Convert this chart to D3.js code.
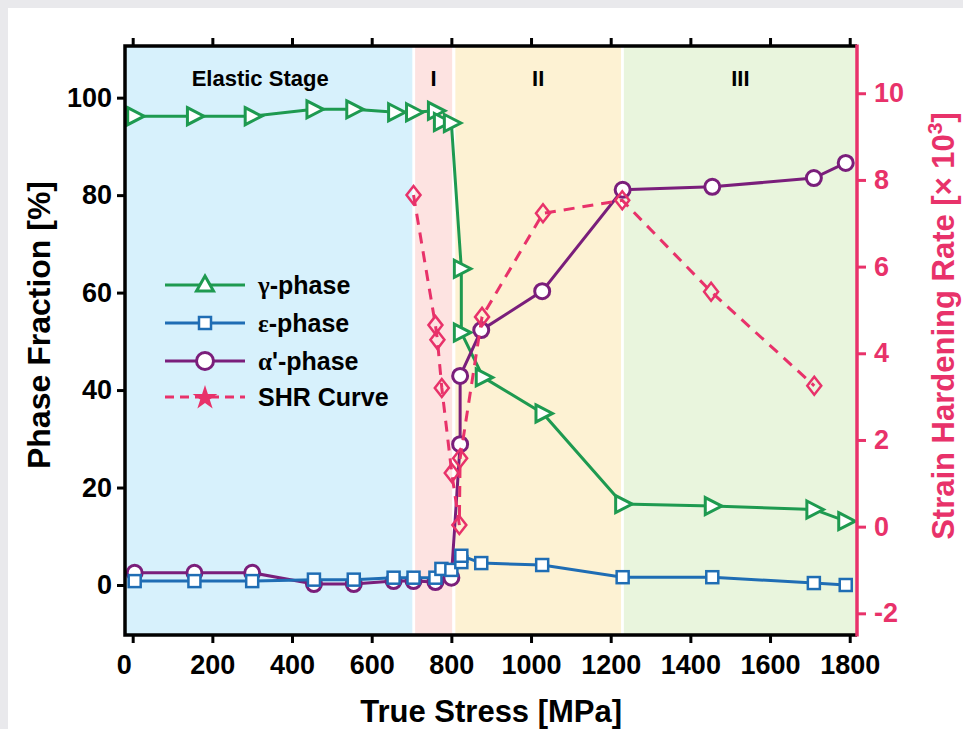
<!DOCTYPE html>
<html>
<head>
<meta charset="utf-8">
<script src="https://cdn.jsdelivr.net/npm/d3@7"></script>
<style>
  body { margin: 0; background: #e9e9ec; }
  svg { display: block; }
  text { font-family: "Liberation Sans", Arial, Helvetica, sans-serif; font-weight: bold; }
</style>
</head>
<body>
<div class="container"></div>
<script>
// data
const gammaStress = [5, 155, 300, 455, 555, 660, 705, 760, 775, 800, 825, 825, 880, 1030, 1230, 1455, 1710, 1790];
const gammaFrac   = [96.2, 96.2, 96.2, 97.6, 97.6, 97.0, 97.0, 97.3, 95.0, 94.8, 64.9, 51.8, 42.6, 35.2, 16.6, 16.2, 15.5, 13.1];

const epsStress = [5, 155, 300, 455, 555, 655, 705, 760, 775, 800, 825, 825, 875, 1028, 1230, 1455, 1710, 1790];
const epsFrac   = [0.8, 0.8, 0.8, 1.1, 1.1, 1.5, 1.5, 1.5, 3.3, 3.1, 4.7, 6.0, 4.5, 4.1, 1.6, 1.6, 0.4, 0.0];

const alphaStress = [5, 155, 300, 455, 555, 655, 705, 760, 800, 822, 822, 875, 1028, 1230, 1455, 1710, 1790];
const alphaFrac   = [2.5, 2.5, 2.5, 0.2, 0.2, 0.8, 0.8, 0.6, 1.5, 28.9, 42.9, 52.3, 60.3, 81.1, 81.7, 83.5, 86.6];

const shrStress = [705, 760, 765, 776, 801, 820, 822, 877, 1030, 1229, 1452, 1711];
const shrRate   = [7.65, 4.65, 4.31, 3.2, 1.24, 0.04, 1.58, 4.84, 7.23, 7.53, 5.42, 3.25];

const stageNames = ['Elastic Stage', 'I', 'II', 'III'];
const stageStart = [-19.3, 709, 810, 1233];
const stageEnd   = [702, 802, 1226, 1818.3];
const stageFill  = ['#d7f1fc', '#fde3e1', '#fdf2d3', '#e9f5dd'];

const xTicks = [0, 200, 400, 600, 800, 1000, 1200, 1400, 1600, 1800];
const yTicks = [0, 20, 40, 60, 80, 100];
const y2Ticks = [-2, 0, 2, 4, 6, 8, 10];

const legendGreek = ['γ', 'ε', 'α', ''];
const legendNames = ['-phase', '-phase', "'-phase", 'SHR Curve'];

const width = 963;
const height = 729;

const green = '#1e9a50';
const blue = '#1f6db4';
const purple = '#7a1e7b';
const red = '#e8326a';

const svg = d3.select('.container')
    .append('svg')
    .attr('width', width)
    .attr('height', height);

// white card
svg.append('rect')
    .attr('x', 8).attr('y', 8)
    .attr('width', width - 8).attr('height', height - 8)
    .attr('fill', '#fff');

const pLeft = 125, pRight = 857, pTop = 46, pBottom = 635;

const x = d3.scaleLinear().domain([-19.3, 1818.3]).range([pLeft, pRight]);
const y = d3.scaleLinear().domain([-10.26, 110.6]).range([pBottom, pTop]);
const y2 = d3.scaleLinear().domain([-2.5, 11.09]).range([pBottom, pTop]);

// stage bands
svg.selectAll('.band')
    .data(stageNames)
    .enter()
    .append('rect')
    .attr('class', 'band')
    .attr('x', (d, i) => x(stageStart[i]))
    .attr('width', (d, i) => x(stageEnd[i]) - x(stageStart[i]))
    .attr('y', pTop)
    .attr('height', pBottom - pTop)
    .attr('fill', (d, i) => stageFill[i]);

svg.selectAll('.stage')
    .data(stageNames)
    .enter()
    .append('text')
    .attr('class', 'stage')
    .attr('x', (d, i) => i === 0 ? x(320) : (x(stageStart[i]) + x(stageEnd[i])) / 2)
    .attr('y', 86)
    .attr('text-anchor', 'middle')
    .attr('font-size', 22)
    .text(d => d);

// markers
const tri = 'M-7,-8.5L9.5,0L-7,8.5Z';
const diamond = 'M0,-9L7,0L0,9L-7,0Z';

function drawSeries(xs, ys, yscale, color, kind, dashed) {
    const g = svg.append('g');
    const pts = xs.map((v, i) => [x(v), yscale(ys[i])]);
    g.append('path')
        .attr('d', d3.line()(pts))
        .attr('fill', 'none')
        .attr('stroke', color)
        .attr('stroke-width', 3)
        .attr('stroke-dasharray', dashed ? '11,8' : null);
    const m = g.selectAll('.mark')
        .data(pts)
        .enter();
    if (kind === 'circle') {
        m.append('circle')
            .attr('cx', d => d[0]).attr('cy', d => d[1])
            .attr('r', 7.5)
            .attr('fill', '#fff').attr('stroke', color).attr('stroke-width', 3);
    } else if (kind === 'square') {
        m.append('rect')
            .attr('x', d => d[0] - 6).attr('y', d => d[1] - 6)
            .attr('width', 12).attr('height', 12)
            .attr('fill', '#fff').attr('stroke', color).attr('stroke-width', 2.5);
    } else {
        m.append('path')
            .attr('d', kind === 'tri' ? tri : diamond)
            .attr('transform', d => `translate(${d[0]},${d[1]})`)
            .attr('fill', kind === 'tri' ? '#fff' : 'none')
            .attr('stroke', color).attr('stroke-width', kind === 'tri' ? 3 : 2.5);
    }
}

drawSeries(gammaStress, gammaFrac, y, green, 'tri');
drawSeries(alphaStress, alphaFrac, y, purple, 'circle');
drawSeries(epsStress, epsFrac, y, blue, 'square');
drawSeries(shrStress, shrRate, y2, red, 'diamond', true);

// axes
const fmt = d => String(d);
const bottomAxis = svg.append('g')
    .attr('transform', `translate(0,${pBottom})`)
    .call(d3.axisBottom(x).tickValues(xTicks).tickSize(8).tickPadding(12).tickSizeOuter(0).tickFormat(fmt));
const topAxis = svg.append('g')
    .attr('transform', `translate(0,${pTop})`)
    .call(d3.axisTop(x).tickValues(xTicks).tickSize(8).tickFormat('').tickSizeOuter(0));
const leftAxis = svg.append('g')
    .attr('transform', `translate(${pLeft},0)`)
    .call(d3.axisLeft(y).tickValues(yTicks).tickSize(8).tickPadding(5).tickSizeOuter(0).tickFormat(fmt));
const rightAxis = svg.append('g')
    .attr('transform', `translate(${pRight},0)`)
    .call(d3.axisRight(y2).tickValues(y2Ticks).tickSize(9).tickPadding(8).tickSizeOuter(0).tickFormat(fmt));

[bottomAxis, topAxis, leftAxis].forEach(a => {
    a.selectAll('.domain').remove();
    a.selectAll('line').attr('stroke', '#000').attr('stroke-width', 3);
    a.selectAll('text').attr('font-size', 27).attr('fill', '#000')
        .style('font-family', '"Liberation Sans", Arial, sans-serif');
});
// the "0" under the x axis sits a little left of its tick
bottomAxis.selectAll('text').filter(d => d === 0).attr('dx', -9);
rightAxis.selectAll('.domain').remove();
rightAxis.selectAll('line').attr('stroke', red).attr('stroke-width', 3);
rightAxis.selectAll('text').attr('font-size', 27).attr('fill', red)
    .style('font-family', '"Liberation Sans", Arial, sans-serif');

// frame
svg.append('path')
    .attr('d', `M${pRight},${pTop}L${pLeft},${pTop}L${pLeft},${pBottom}L${pRight},${pBottom}`)
    .attr('fill', 'none').attr('stroke', '#000').attr('stroke-width', 3.5);
svg.append('line')
    .attr('x1', pRight).attr('x2', pRight).attr('y1', pTop - 1.5).attr('y2', pBottom + 1.5)
    .attr('stroke', red).attr('stroke-width', 3.5);

// axis titles
svg.append('text')
    .attr('x', (x(0) + x(1800)) / 2).attr('y', 722)
    .attr('text-anchor', 'middle').attr('font-size', 31)
    .text('True Stress [MPa]');
svg.append('text')
    .attr('transform', 'translate(50,325) rotate(-90)')
    .attr('text-anchor', 'middle').attr('font-size', 32)
    .text('Phase Fraction [%]');
const rt = svg.append('text')
    .attr('transform', 'translate(954,326) rotate(-90)')
    .attr('text-anchor', 'middle').attr('font-size', 31)
    .attr('fill', red);
rt.append('tspan').text('Strain Hardening Rate [× 10');
rt.append('tspan').attr('font-size', 21).attr('dy', -12).text('3');
rt.append('tspan').attr('dy', 12).text(']');

// legend
const legendY = [285, 323, 361, 397];
const legendColors = [green, blue, purple, red];
const legend = svg.selectAll('.legend')
    .data(legendNames)
    .enter()
    .append('g')
    .attr('class', 'legend')
    .attr('transform', (d, i) => `translate(0,${legendY[i]})`);

legend.append('line')
    .attr('x1', 165).attr('x2', 245)
    .attr('stroke', (d, i) => legendColors[i])
    .attr('stroke-width', 3)
    .attr('stroke-dasharray', (d, i) => i === 3 ? '9,6' : null);

const lt = legend.append('text')
    .attr('x', 258).attr('y', 9)
    .attr('font-size', 25);
lt.append('tspan')
    .style('font-family', '"Liberation Serif", "DejaVu Serif", serif')
    .text((d, i) => legendGreek[i]);
lt.append('tspan').text(d => d);

legend.each(function (d, i) {
    const g = d3.select(this);
    if (i === 0) {
        g.append('path').attr('d', 'M0,-9L8.5,6L-8.5,6Z').attr('transform', 'translate(205,0)')
            .attr('fill', '#fff').attr('stroke', green).attr('stroke-width', 3);
    } else if (i === 1) {
        g.append('rect').attr('x', 199).attr('y', -6).attr('width', 12).attr('height', 12)
            .attr('fill', '#fff').attr('stroke', blue).attr('stroke-width', 2.5);
    } else if (i === 2) {
        g.append('circle').attr('cx', 205).attr('r', 8.5)
            .attr('fill', '#fff').attr('stroke', purple).attr('stroke-width', 3);
    } else {
        g.append('path').attr('d', d3.symbol(d3.symbolStar, 190)())
            .attr('transform', 'translate(205,1)')
            .attr('fill', red);
    }
});
</script>
</body>
</html>
